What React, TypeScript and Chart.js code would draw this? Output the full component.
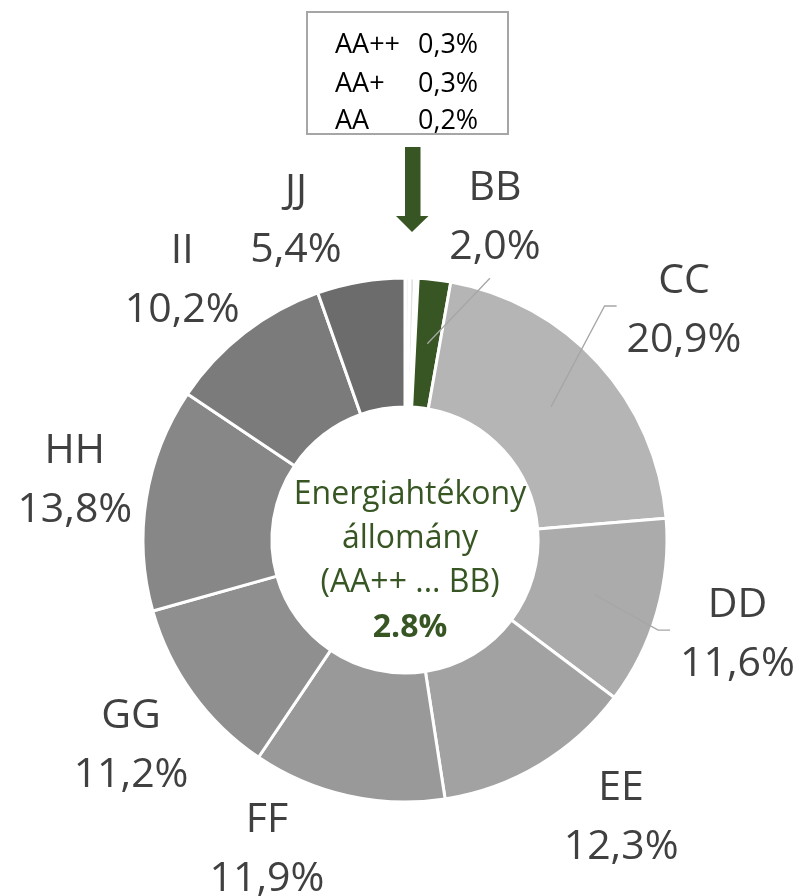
import React, { useEffect, useRef } from "react";
import { Chart, registerables } from "chart.js";

Chart.register(...registerables);

// ---- data ----
const categories = ["AA++", "AA+", "AA", "BB", "CC", "DD", "EE", "FF", "GG", "HH", "II", "JJ"];
const shares = [0.3, 0.3, 0.2, 2.0, 20.9, 11.6, 12.3, 11.9, 11.2, 13.8, 10.2, 5.4];
const shareLabels = ["0,3%", "0,3%", "0,2%", "2,0%", "20,9%", "11,6%", "12,3%", "11,9%", "11,2%", "13,8%", "10,2%", "5,4%"];
const sliceColors = [
  "#f4f4f4", "#e2e2e2", "#f8f8f8", "#375623", "#b5b5b5", "#ababab",
  "#a2a2a2", "#999999", "#8f8f8f", "#878787", "#7b7b7b", "#6c6c6c",
];
const boxedCount = 3;
const centerLines = ["Energiahtékony", "állomány", "(AA++ ... BB)"];
const centerTotal = "2.8%";

// label placement relative to each slice: [angle nudge (deg), radius as fraction of outer radius]
const labelPlacement: Record<number, [number, number]> = {
  3: [9.0, 1.286],
  4: [2.6, 1.385],
  5: [-0.6, 1.317],
  6: [-7.2, 1.336],
  7: [11.6, 1.286],
  8: [-0.7, 1.302],
  9: [1.5, 1.282],
  10: [-2.6, 1.313],
  11: [-9.0, 1.298],
};
const leaderKind: Record<number, string> = { 3: "below", 4: "left", 5: "left" };

const FONT = '"Open Sans", "Noto Sans", sans-serif';
const GREEN = "#375623";

const overlayPlugin = {
  id: "overlay",
  afterDraw(chart: any) {
    const ctx = chart.ctx as CanvasRenderingContext2D;
    const meta = chart.getDatasetMeta(0);
    const arcs = meta.data as any[];
    if (!arcs.length) return;
    const cx = arcs[0].x;
    const cy = arcs[0].y;
    const outerR = arcs[0].outerRadius;
    const innerR = arcs[0].innerRadius;
    ctx.save();

    // slice labels + leaders
    ctx.font = `41px ${FONT}`;
    ctx.textAlign = "center";
    ctx.textBaseline = "alphabetic";
    arcs.forEach((arc, i) => {
      const pl = labelPlacement[i];
      if (!pl) return;
      const mid = (arc.startAngle + arc.endAngle) / 2;
      const a = mid + (pl[0] * Math.PI) / 180;
      const r = outerR * pl[1];
      const lx = cx + r * Math.cos(a);
      const ly = cy + r * Math.sin(a);
      ctx.fillStyle = "#404040";
      ctx.fillText(categories[i], lx, ly - 15);
      ctx.fillText(shareLabels[i], lx, ly + 44);

      const kind = leaderKind[i];
      if (kind) {
        const rm = (outerR + innerR) / 2;
        const sx = cx + rm * Math.cos(mid);
        const sy = cy + rm * Math.sin(mid);
        ctx.strokeStyle = "#a6a6a6";
        ctx.lineWidth = 1.3;
        ctx.beginPath();
        ctx.moveTo(sx, sy);
        if (kind === "left") {
          const w = ctx.measureText(shareLabels[i]).width;
          const ex = lx - w / 2 - 10;
          const ey = ly - 2;
          ctx.lineTo(ex - 12, ey);
          ctx.lineTo(ex, ey);
        } else {
          ctx.lineTo(lx - 5, ly + 63);
        }
        ctx.stroke();
      }
    });

    // center text
    ctx.fillStyle = GREEN;
    ctx.font = `32px ${FONT}`;
    ctx.fillText(centerLines[0], cx + 5, cy - 36);
    ctx.fillText(centerLines[1], cx + 5, cy + 8);
    ctx.fillText(centerLines[2], cx + 5, cy + 52);
    ctx.font = `bold 32px ${FONT}`;
    ctx.fillText(centerTotal, cx + 5, cy + 97);

    // box with the smallest categories
    ctx.strokeStyle = "#a6a6a6";
    ctx.lineWidth = 2;
    ctx.strokeRect(cx - 98, cy - 528, 201, 122);
    ctx.fillStyle = "#000000";
    ctx.font = `27px ${FONT}`;
    ctx.textAlign = "left";
    const rowBase = [cy - 487, cy - 448, cy - 411];
    for (let i = 0; i < boxedCount; i++) {
      ctx.fillText(categories[i], cx - 70, rowBase[i]);
      ctx.fillText(shareLabels[i], cx + 13, rowBase[i]);
    }

    // arrow
    ctx.fillStyle = GREEN;
    ctx.beginPath();
    ctx.moveTo(cx, cy - 393);
    ctx.lineTo(cx + 15.5, cy - 393);
    ctx.lineTo(cx + 15.5, cy - 324);
    ctx.lineTo(cx + 23.5, cy - 324);
    ctx.lineTo(cx + 7, cy - 308);
    ctx.lineTo(cx - 9, cy - 324);
    ctx.lineTo(cx, cy - 324);
    ctx.closePath();
    ctx.fill();

    ctx.restore();
  },
};

export default function App() {
  const ref = useRef<HTMLCanvasElement | null>(null);
  useEffect(() => {
    if (!ref.current) return;
    const chart = new Chart(ref.current, {
      type: "doughnut",
      data: {
        labels: categories,
        datasets: [
          {
            data: shares,
            backgroundColor: sliceColors,
            borderColor: "#ffffff",
            borderWidth: 3,
            hoverBorderWidth: 3,
            hoverOffset: 0,
          },
        ],
      },
      options: {
        animation: false,
        responsive: false,
        cutout: "50.8%",
        layout: { padding: { left: 141.5, right: 133.5, top: 276.5, bottom: 92.5 } },
        plugins: {
          legend: { display: false },
          tooltip: { enabled: false },
        },
        events: [],
      },
      plugins: [overlayPlugin],
    });
    return () => chart.destroy();
  }, []);
  return (
    <div style={{ position: "absolute", left: 0, top: 0, width: 802, height: 896, background: "#fff" }}>
      <canvas ref={ref} width={802} height={896} style={{ display: "block" }} />
    </div>
  );
}
